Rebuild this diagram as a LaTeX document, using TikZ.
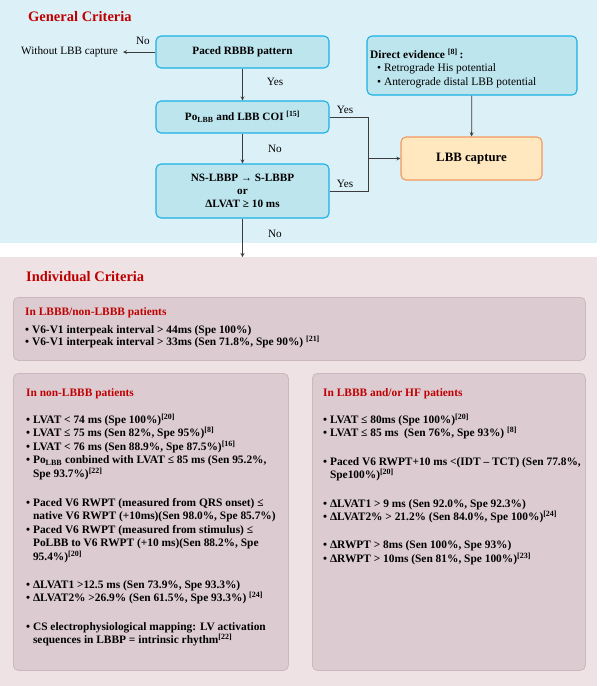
\documentclass[tikz,border=0pt]{standalone}
\usepackage{fontspec}
\setmainfont{Liberation Serif}
\usetikzlibrary{calc}
\definecolor{bgblue}{HTML}{DCF0F7}
\definecolor{flowfill}{HTML}{BDE5EE}
\definecolor{flowline}{HTML}{1BB0E6}
\definecolor{capfill}{HTML}{FFE7BF}
\definecolor{capline}{HTML}{F2975E}
\definecolor{bgpink}{HTML}{EEE2E5}
\definecolor{panelfill}{HTML}{DCCCD2}
\definecolor{panelline}{HTML}{CBB7BF}
\definecolor{critred}{HTML}{C00000}
\definecolor{connline}{HTML}{3C3C3C}
\tikzset{>=stealth}
\newcommand{\srf}[1]{\textsuperscript{[#1]}}
\newcommand{\bul}{\textbullet\ }
\newcommand{\nobul}{\hphantom{\textbullet\ }}

\begin{document}
\begin{tikzpicture}[x=1pt,y=-1pt,
    flow/.style={draw=flowline,fill=flowfill,line width=1.1pt,rounded corners=5pt,
      minimum width=173pt,align=center,font=\bfseries\fontsize{11.2}{13}\selectfont},
    conn/.style={draw=connline,line width=0.8pt},
    lab/.style={font=\fontsize{11.2}{13}\selectfont,inner sep=0pt},
    heading/.style={text=critred,font=\bfseries\fontsize{14.5}{17}\selectfont,inner sep=0pt,anchor=west},
    panel/.style={draw=panelline,fill=panelfill,line width=0.8pt,rounded corners=5pt,anchor=north west},
    crit/.style={align=left,inner sep=0pt,anchor=north west,font=\bfseries\fontsize{11.4}{13.4}\selectfont}]
  \useasboundingbox (0,0) rectangle (600,686);
  \fill[white] (0,0) rectangle (600,686);
  % backgrounds
  \fill[bgblue] (0,0) rectangle (597,243);
  \fill[bgpink] (0,257) rectangle (597,686);

  % general criteria
  \node[heading] (gen) at (28,17) {General Criteria};
  \node[flow,minimum height=32pt] (rbbb) at (242.5,52) {Paced RBBB pattern};
  \node[flow,minimum height=32pt] (colbb) at (242.5,117) {Po\textsubscript{LBB} and LBB COI \srf{15}};
  \node[flow,minimum height=54pt] (nsl) at (242.5,191) {NS-LBBP → S-LBBP\\or\\ΔLVAT ≥ 10 ms};
  \node[lab,anchor=east,inner xsep=5pt] (without) at (123,52) {Without LBB capture};
  \node[draw=flowline,fill=flowfill,line width=1.1pt,rounded corners=5pt,
    minimum width=210pt,minimum height=59pt] (direct) at (472,65.5) {};
  \node[align=left,inner sep=0pt,anchor=north west,font=\fontsize{11.4}{13.4}\selectfont] (directtxt) at (370,48.5)
    {\textbf{Direct evidence \srf{8}\,:}\\
     \hspace*{7pt}\bul Retrograde His potential\\
     \hspace*{7pt}\bul Anterograde distal LBB potential};
  \node[draw=capline,fill=capfill,line width=1.1pt,rounded corners=5pt,minimum width=141pt,
    minimum height=43pt,font=\bfseries\fontsize{12.8}{15}\selectfont] (cap) at (471.5,158.5) {LBB capture};
  \coordinate (join) at (368,158.5);
  \coordinate (indiv) at (242.5,257);

  \draw[conn,->] (rbbb) -- (without);
  \node[lab] (no1) at (143,41) {No};
  \draw[conn,->] (rbbb) -- (colbb);
  \node[lab] (yes1) at (275,82) {Yes};
  \draw[conn,->] (colbb) -- (nsl);
  \node[lab] (no2) at (275,149) {No};
  \draw[conn,->] (nsl) -- (indiv);
  \node[lab] (no3) at (275,234) {No};
  \draw[conn] (colbb.east) -| (join);
  \draw[conn] (nsl.east) -| (join);
  \draw[conn,->] (join) -- (cap);
  \node[lab] (yes2) at (345,110) {Yes};
  \node[lab] (yes3) at (345,184) {Yes};
  \draw[conn,->] (direct) -- (cap);

  % individual criteria
  \node[heading] (ind) at (26,277) {Individual Criteria};
  \node[panel,minimum width=572pt,minimum height=63pt] (both) at (13,297) {};
  \node[crit] (bothtxt) at (25,307)
    {\textcolor{critred}{In LBBB/non-LBBB patients}\\[4.5pt]
     \bul V6-V1 interpeak interval > 44ms (Spe 100\%)\\[-1.4pt]
     \bul V6-V1 interpeak interval > 33ms (Sen 71.8\%, Spe 90\%) \srf{21}};
  \node[panel,minimum width=275pt,minimum height=297pt] (nonlbbb) at (13,373) {};
  \node[crit] (nonlbbbtxt) at (26,388)
    {\textcolor{critred}{In non-LBBB patients}\\[14pt]
     \bul LVAT < 74 ms (Spe 100\%)\srf{20}\\
     \bul LVAT ≤ 75 ms (Sen 82\%, Spe 95\%)\srf{8}\\
     \bul LVAT < 76 ms (Sen 88.9\%, Spe 87.5\%)\srf{16}\\
     \bul Po\textsubscript{LBB} conbined with LVAT ≤ 85 ms (Sen 95.2\%,\\
     \nobul Spe 93.7\%)\srf{22}\\[16pt]
     \bul Paced V6 RWPT (measured from QRS onset) ≤\\
     \nobul native V6 RWPT (+10ms)(Sen 98.0\%, Spe 85.7\%)\\
     \bul Paced V6 RWPT (measured from stimulus) ≤\\
     \nobul PoLBB to V6 RWPT (+10 ms)(Sen 88.2\%, Spe\\
     \nobul 95.4\%)\srf{20}\\[15pt]
     \bul ΔLVAT1 >12.5 ms (Sen 73.9\%, Spe 93.3\%)\\
     \bul ΔLVAT2\% >26.9\% (Sen 61.5\%, Spe 93.3\%) \srf{24}\\[15pt]
     \bul CS electrophysiological mapping: LV activation\\
     \nobul sequences in LBBP = intrinsic rhythm\srf{22}};
  \node[panel,minimum width=273pt,minimum height=297pt] (hf) at (312,373) {};
  \node[crit] (hftxt) at (323,388)
    {\textcolor{critred}{In LBBB and/or HF patients}\\[14pt]
     \bul LVAT ≤ 80ms (Spe 100\%)\srf{20}\\
     \bul LVAT ≤ 85 ms\ \ (Sen 76\%, Spe 93\%) \srf{8}\\[15pt]
     \bul Paced V6 RWPT+10 ms <(IDT – TCT) (Sen 77.8\%,\\
     \nobul Spe100\%)\srf{20}\\[15pt]
     \bul ΔLVAT1 > 9 ms (Sen 92.0\%, Spe 92.3\%)\\
     \bul ΔLVAT2\% > 21.2\% (Sen 84.0\%, Spe 100\%)\srf{24}\\[15pt]
     \bul ΔRWPT > 8ms (Sen 100\%, Spe 93\%)\\
     \bul ΔRWPT > 10ms (Sen 81\%, Spe 100\%)\srf{23}};
\end{tikzpicture}
\end{document}
